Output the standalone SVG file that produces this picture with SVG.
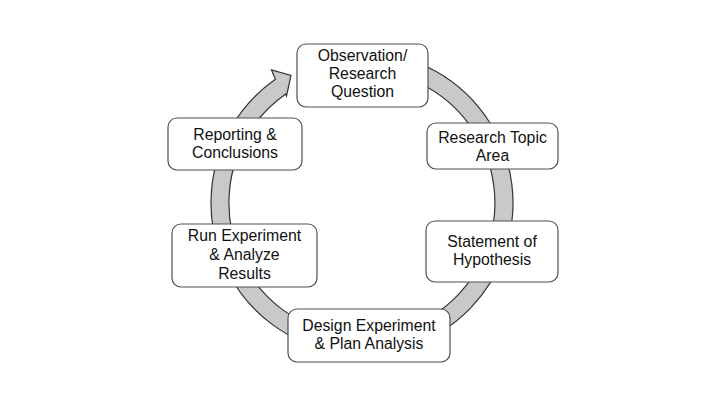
<svg xmlns="http://www.w3.org/2000/svg" width="720" height="405" viewBox="0 0 720 405">
<style>
.box{fill:#fff;stroke:#505050;stroke-width:1.2}
.lbl{font-family:"Liberation Sans",Arial,sans-serif;font-size:15.8px;fill:#111;text-anchor:middle}
.ring{fill:#c9c9c9;stroke:#333;stroke-width:1.2;stroke-linejoin:miter}
</style>
<rect width="720" height="405" fill="#fff"/>
<g id="connectors">
<path class="ring" d="M 362 52 A 151 151 0 1 1 275.4 79.3 L 271.5 70 L 291 75.5 L 286.5 96 L 285.7 94 A 133 133 0 1 0 362 70 Z"/>
</g>
<g id="observation">
<rect class="box" x="297" y="44" width="131" height="63" rx="9"/>
<text class="lbl" x="362.5" y="61">Observation/</text>
<text class="lbl" x="362.5" y="79">Research</text>
<text class="lbl" x="362.5" y="97">Question</text>
</g>
<g id="topic">
<rect class="box" x="427" y="123" width="131" height="46" rx="9"/>
<text class="lbl" x="492.5" y="143">Research Topic</text>
<text class="lbl" x="492.5" y="161">Area</text>
</g>
<g id="hypothesis">
<rect class="box" x="426" y="221" width="132" height="61" rx="9"/>
<text class="lbl" x="492" y="247">Statement of</text>
<text class="lbl" x="492" y="265">Hypothesis</text>
</g>
<g id="design">
<rect class="box" x="288" y="309" width="162" height="53" rx="9"/>
<text class="lbl" x="369" y="331">Design Experiment</text>
<text class="lbl" x="369" y="349">&amp; Plan Analysis</text>
</g>
<g id="run">
<rect class="box" x="172" y="224" width="145" height="63" rx="9"/>
<text class="lbl" x="244.5" y="241">Run Experiment</text>
<text class="lbl" x="244.5" y="260">&amp; Analyze</text>
<text class="lbl" x="244.5" y="279">Results</text>
</g>
<g id="reporting">
<rect class="box" x="168" y="118" width="134" height="52" rx="9"/>
<text class="lbl" x="235" y="140">Reporting &amp;</text>
<text class="lbl" x="235" y="158">Conclusions</text>
</g>
</svg>
